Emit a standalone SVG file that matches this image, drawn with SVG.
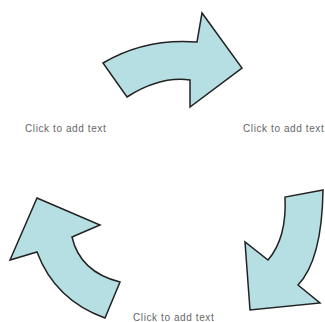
<svg xmlns="http://www.w3.org/2000/svg" width="325" height="322" viewBox="0 0 325 322">
<style>
.arrow{fill:#b6dfe3;stroke:#222;stroke-width:1.5;stroke-linejoin:miter}
.lbl{font-family:"Liberation Sans",Arial,sans-serif;font-size:10px;letter-spacing:0.6px;fill:#666}
</style>
<rect width="325" height="322" fill="#fff"/>
<g id="arrow-top"><path class="arrow" d="M103,63 Q145,38 197,42 L202,13 L242,68 L190,107 L190,80 Q160,76 127,97 Z"/></g>
<g id="arrow-right"><path class="arrow" d="M323,190 L285,197 Q287,238 268,260 L245,242 L250,310 L320,303 L298,285 Q322,260 323,190 Z"/></g>
<g id="arrow-left"><path class="arrow" d="M37,198 L100,225 L72,237 Q80,272 120,282 L105,318 Q55,300 37,252 L10,260 Z"/></g>
<g id="label-1"><text class="lbl" x="25" y="132">Click to add text</text></g>
<g id="label-2"><text class="lbl" x="243" y="132">Click to add text</text></g>
<g id="label-3"><text class="lbl" x="133" y="321">Click to add text</text></g>
</svg>
